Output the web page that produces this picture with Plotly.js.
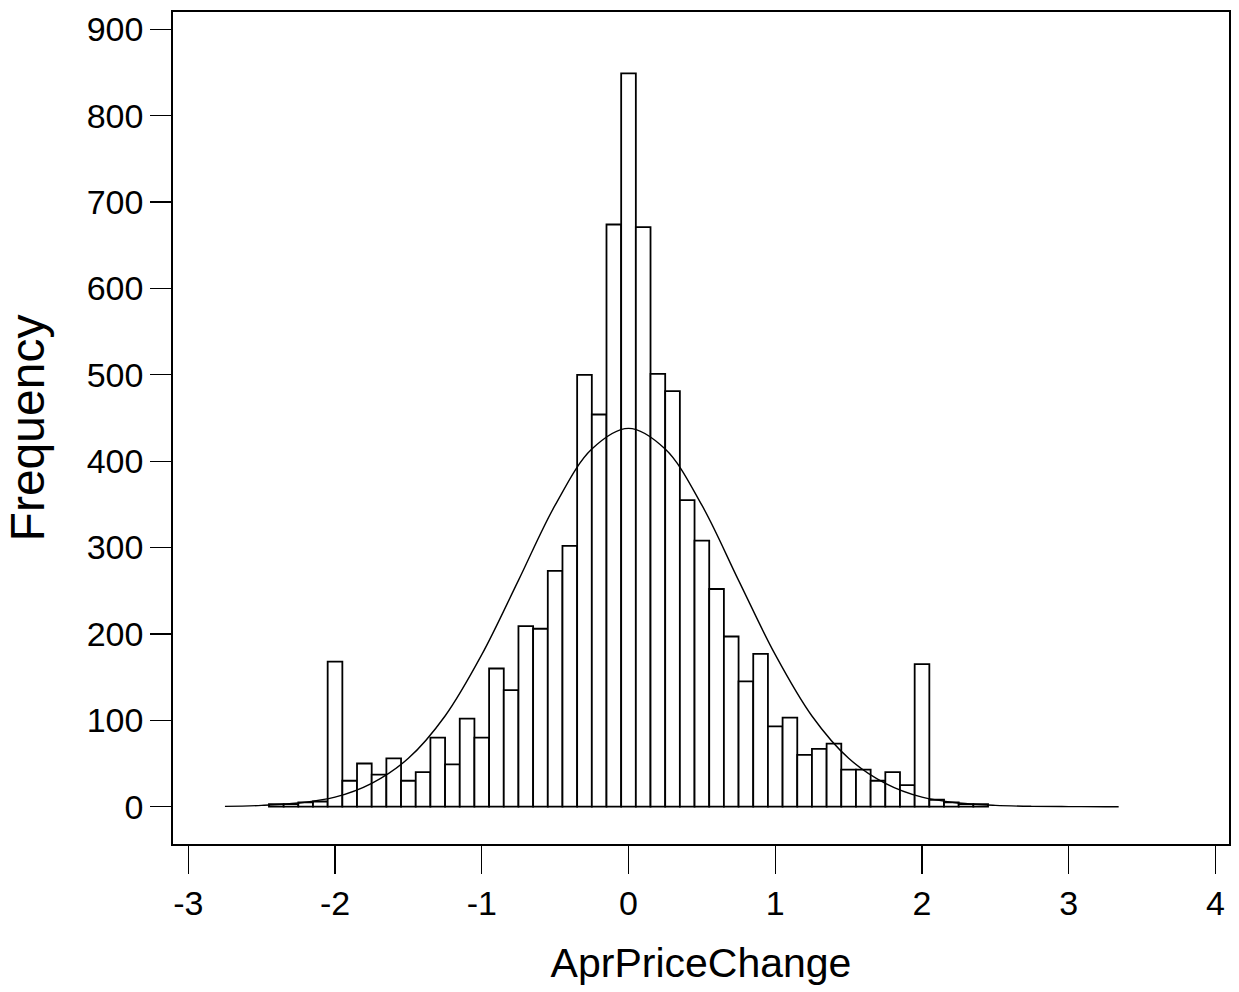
<!DOCTYPE html>
<html>
<head>
<meta charset="utf-8">
<script src="https://cdn.plot.ly/plotly-3.0.1.min.js"></script>
<style>html,body{margin:0;padding:0;background:#fff;}#chart{width:1239px;height:992px;}</style>
</head>
<body>
<div id="chart"></div>
<script>
// Histogram bin centres (AprPriceChange) and counts
var binCenters = [-2.4,-2.3,-2.2,-2.1,-2.0,-1.9,-1.8,-1.7,-1.6,-1.5,-1.4,-1.3,-1.2,-1.1,-1.0,-0.9,-0.8,-0.7,-0.6,-0.5,-0.4,-0.3,-0.2,-0.1,0.0,0.1,0.2,0.3,0.4,0.5,0.6,0.7,0.8,0.9,1.0,1.1,1.2,1.3,1.4,1.5,1.6,1.7,1.8,1.9,2.0,2.1,2.2,2.3,2.4];
var frequency = [3,3,5,6,168,30,50,37,56,30,40,80,49,102,80,160,135,209,206,273,302,500,454,674,849,671,501,481,355,308,252,197,145,177,93,103,60,67,73,43,43,30,40,25,165,8,5,3,3];

// Fitted normal curve
var curveX = [-2.75,-2.5,-2.25,-2.0,-1.75,-1.5,-1.25,-1.0,-0.75,-0.5,-0.25,0.0,0.25,0.5,0.75,1.0,1.25,1.5,1.75,2.0,2.25,2.5,2.75,3.0,3.25,3.34];
var curveY = [0.4,1.5,4.3,11,27,56,105,176,262,349,414,438,414,349,262,176,105,56,27,11,4.3,1.5,0.4,0.1,0,0];

// Axis ticks
var xTicks = [-3,-2,-1,0,1,2,3,4];
var yTicks = [0,100,200,300,400,500,600,700,800,900];

var narrow = '"Liberation Sans Narrow", "Arial Narrow", "Liberation Sans", Arial, sans-serif';
var regular = '"Liberation Sans", Arial, sans-serif';

var traces = [
  {
    type: 'bar',
    x: binCenters,
    y: frequency,
    width: 0.1,
    marker: {color: '#ffffff', line: {color: '#000000', width: 1.8}},
    hoverinfo: 'x+y'
  },
  {
    type: 'scatter',
    mode: 'lines',
    x: curveX,
    y: curveY,
    line: {color: '#000000', width: 1.4, shape: 'spline', smoothing: 1},
    hoverinfo: 'skip'
  }
];

var layout = {
  width: 1239,
  height: 992,
  margin: {l: 173, r: 10, t: 12, b: 148},
  paper_bgcolor: '#ffffff',
  plot_bgcolor: '#ffffff',
  showlegend: false,
  bargap: 0,
  xaxis: {
    range: [-3.104, 4.092],
    tickvals: xTicks,
    ticktext: xTicks.map(String),
    ticks: 'outside',
    ticklen: 28,
    tickwidth: 1.3,
    tickcolor: '#000',
    showline: true,
    linecolor: '#000',
    linewidth: 1.8,
    mirror: true,
    showgrid: false,
    zeroline: false,
    tickfont: {family: narrow, size: 34, color: '#000'},
    title: {text: 'AprPriceChange', font: {family: narrow, size: 41, color: '#000'}, standoff: 28}
  },
  yaxis: {
    range: [-43.2, 920],
    tickvals: yTicks,
    ticktext: yTicks.map(String),
    ticks: 'outside',
    ticklen: 21,
    tickwidth: 1.3,
    tickcolor: '#000',
    showline: true,
    linecolor: '#000',
    linewidth: 1.8,
    mirror: true,
    showgrid: false,
    zeroline: false,
    tickfont: {family: narrow, size: 34, color: '#000'},
    title: {text: 'Frequency', font: {family: regular, size: 48, color: '#000'}, standoff: 27}
  }
};

Plotly.newPlot('chart', traces, layout, {displayModeBar: false, staticPlot: true});
</script>
</body>
</html>
